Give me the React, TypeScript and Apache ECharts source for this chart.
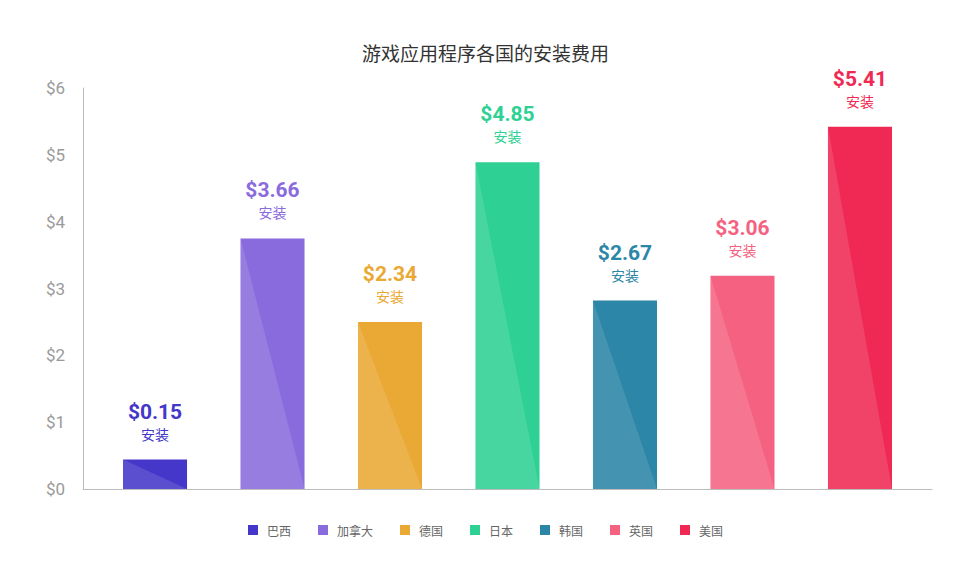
import React, { useEffect, useRef } from "react";
import * as echarts from "echarts";

const title = "游戏应用程序各国的安装费用";
const countries = ["巴西", "加拿大", "德国", "日本", "韩国", "英国", "美国"];
const barValues = [0.44, 3.75, 2.5, 4.89, 2.82, 3.19, 5.42];
const labelValues = [0.15, 3.66, 2.34, 4.85, 2.67, 3.06, 5.41];
const unitLabel = "安装";
const colors = ["#4537C9", "#8A6BDD", "#EAA834", "#2ED193", "#2B86A7", "#F56281", "#EF2954"];
const yTicks = [0, 1, 2, 3, 4, 5, 6];

const BAR_UNITS = 0.545;

export default function App() {
  const ref = useRef<HTMLDivElement>(null);
  useEffect(() => {
    if (!ref.current) return;
    const chart = echarts.init(ref.current, undefined, { renderer: "svg" });
    const series = countries.map((name, i) => ({
      name,
      type: "custom",
      itemStyle: { color: colors[i] },
      data: [[i, barValues[i], labelValues[i]]],
      renderItem: (params: any, api: any) => {
        const xi = api.value(0);
        const v = api.value(1);
        const lv = api.value(2);
        const top = api.coord([xi, v]);
        const bot = api.coord([xi, 0]);
        const w = api.size([BAR_UNITS, 0])[0];
        const l = top[0] - w / 2;
        const r = top[0] + w / 2;
        const c = colors[i];
        return {
          type: "group",
          children: [
            {
              type: "rect",
              shape: { x: l, y: top[1], width: w, height: bot[1] - top[1] },
              style: { fill: c },
            },
            {
              type: "polygon",
              shape: { points: [[l, top[1]], [l, bot[1]], [r, bot[1]]] },
              style: { fill: "rgba(255,255,255,0.12)" },
            },
            {
              type: "text",
              x: top[0],
              y: top[1] - 48,
              style: {
                text: "$" + Number(lv).toFixed(2),
                fill: c,
                font: "bold 21px Roboto",
                align: "center",
                verticalAlign: "middle",
              },
            },
            {
              type: "text",
              x: top[0],
              y: top[1] - 26,
              style: {
                text: unitLabel,
                fill: c,
                font: "14px 'Noto Sans CJK SC'",
                align: "center",
                verticalAlign: "middle",
              },
            },
          ],
        };
      },
    }));
    chart.setOption({
      animation: false,
      backgroundColor: "#ffffff",
      title: {
        text: title,
        left: "center",
        top: 38,
        textStyle: {
          fontFamily: "'Noto Sans CJK SC'",
          fontSize: 19,
          fontWeight: "normal",
          color: "#333333",
        },
      },
      legend: {
        data: countries,
        bottom: 26,
        left: "center",
        icon: "rect",
        itemWidth: 10,
        itemHeight: 10,
        itemGap: 27,
        textStyle: {
          fontFamily: "'Noto Sans CJK SC'",
          fontSize: 12,
          color: "#666666",
          padding: [0, 0, 0, 4],
        },
      },
      grid: { left: 83, right: 39, top: 88, bottom: 78 },
      xAxis: {
        type: "value",
        min: -0.613,
        max: 6.613,
        axisLine: { show: true, onZero: true, lineStyle: { color: "#bdbdbd", width: 1 } },
        axisTick: { show: false },
        axisLabel: { show: false },
        splitLine: { show: false },
      },
      yAxis: {
        type: "value",
        min: yTicks[0],
        max: yTicks[yTicks.length - 1],
        interval: 1,
        axisLine: { show: true, onZero: false, lineStyle: { color: "#bdbdbd", width: 1 } },
        axisTick: { show: false },
        splitLine: { show: false },
        axisLabel: {
          formatter: (v: number) => "$" + v,
          color: "#9a9a9a",
          fontSize: 17,
          fontFamily: "Roboto",
          margin: 18,
        },
      },
      series,
    });
    return () => chart.dispose();
  }, []);
  return <div ref={ref} style={{ width: 971, height: 567, position: "absolute", left: 0, top: 0 }} />;
}
